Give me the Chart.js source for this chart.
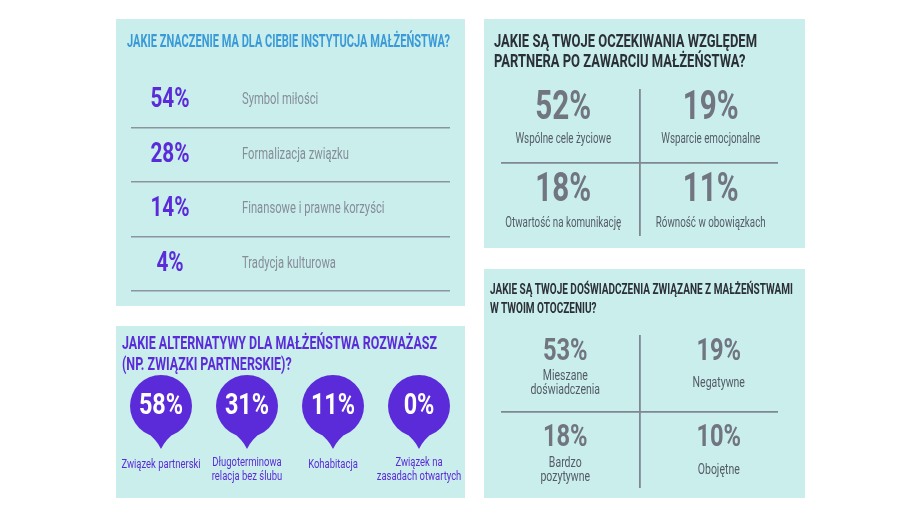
<!DOCTYPE html>
<html><head><meta charset="utf-8">
<script src="https://cdn.jsdelivr.net/npm/chart.js@4.4.1/dist/chart.umd.min.js"></script>
<style>
html,body{margin:0;padding:0;background:#fff;width:920px;height:518px;overflow:hidden;}
.panel{position:absolute;background:#c9eeec;}
.cw{position:absolute;left:0;top:0;right:0;bottom:0;}
.title{position:absolute;font-family:Roboto,sans-serif;white-space:nowrap;font-weight:bold;}
.title span{display:inline-block;transform-origin:0 50%;}
</style></head><body>
<div class="panel" style="left:116px;top:19px;width:349px;height:287px">
  <div class="cw"><canvas id="c1"></canvas></div>
  <div class="title" id="t1" data-w="323" style="left:11px;top:12px;font-size:18px;line-height:20px;color:#3a9ad8;"></div>
</div>
<div class="panel" style="left:484px;top:19px;width:321px;height:229px">
  <div class="cw"><canvas id="c2"></canvas></div>
  <div class="title" id="t2" data-w="263" style="left:10px;top:12px;font-size:19px;line-height:20px;color:#2b2f36;"></div>
</div>
<div class="panel" style="left:116px;top:326px;width:349px;height:172px">
  <div class="cw"><canvas id="c3"></canvas></div>
  <div class="title" id="t3" data-w="315" style="left:6px;top:6px;font-size:19px;line-height:21px;color:#5b2bd9;"></div>
</div>
<div class="panel" style="left:484px;top:269px;width:321px;height:229px">
  <div class="cw"><canvas id="c4"></canvas></div>
  <div class="title" id="t4" data-w="303" style="left:6px;top:11px;font-size:15px;line-height:18.5px;color:#2b2f36;"></div>
</div>
<script>
// ---- data ----
const title1 = ['JAKIE ZNACZENIE MA DLA CIEBIE INSTYTUCJA MAŁŻEŃSTWA?'];
const q1Labels = ['Symbol miłości', 'Formalizacja związku', 'Finansowe i prawne korzyści', 'Tradycja kulturowa'];
const q1Values = [54, 28, 14, 4];

const title2 = ['JAKIE SĄ TWOJE OCZEKIWANIA WZGLĘDEM', 'PARTNERA PO ZAWARCIU MAŁŻEŃSTWA?'];
const q2Labels = [['Wspólne cele życiowe'], ['Wsparcie emocjonalne'], ['Otwartość na komunikację'], ['Równość w obowiązkach']];
const q2Values = [52, 19, 18, 11];

const title3 = ['JAKIE ALTERNATYWY DLA MAŁŻEŃSTWA ROZWAŻASZ', '(NP. ZWIĄZKI PARTNERSKIE)?'];
const q3Labels = [['Związek partnerski'], ['Długoterminowa', 'relacja bez ślubu'], ['Kohabitacja'], ['Związek na', 'zasadach otwartych']];
const q3Values = [58, 31, 11, 0];

const title4 = ['JAKIE SĄ TWOJE DOŚWIADCZENIA ZWIĄZANE Z MAŁŻEŃSTWAMI', 'W TWOIM OTOCZENIU?'];
const q4Labels = [['Mieszane', 'doświadczenia'], ['Negatywne'], ['Bardzo', 'pozytywne'], ['Obojętne']];
const q4Values = [53, 19, 18, 10];

// ---- styles ----
const FONT = "Roboto, sans-serif";
const PURPLE = '#5b2bd9';
const LGRAY = '#878d98';
const DGRAY = '#555b66';
const NGRAY = '#70757f';
const LINE = '#8c949f';
const QLINE = '#7f8793';
const NUM_SX = 0.74;   // horizontal condensing of numbers
const LAB_SX = 0.70;   // horizontal condensing of labels

function setTitle(id, lines) {
  const el = document.getElementById(id);
  el.innerHTML = '';
  const span = document.createElement('span');
  lines.forEach((s, k) => {
    if (k) span.appendChild(document.createElement('br'));
    span.appendChild(document.createTextNode(s));
  });
  el.appendChild(span);
  const fit = () => {
    span.style.transform = 'none';
    const probe = document.createElement('span');
    probe.style.cssText = 'position:absolute;visibility:hidden;white-space:nowrap;';
    probe.textContent = lines[0];
    el.appendChild(probe);
    const w = probe.getBoundingClientRect().width;
    el.removeChild(probe);
    span.style.transform = 'scaleX(' + (parseFloat(el.dataset.w) / w) + ')';
  };
  fit();
  if (document.fonts) document.fonts.ready.then(fit);
}
setTitle('t1', title1); setTitle('t2', title2); setTitle('t3', title3); setTitle('t4', title4);

Chart.defaults.animation = false;
Chart.defaults.responsive = true;
Chart.defaults.maintainAspectRatio = false;
Chart.defaults.plugins.legend.display = false;
Chart.defaults.plugins.tooltip.enabled = false;

function ctext(ctx, s, x, y, sx) {
  ctx.save(); ctx.translate(x, y); ctx.scale(sx, 1); ctx.fillText(s, 0, 0); ctx.restore();
}
function drawLines(ctx, lines, x, y, lh, sx) {
  const y0 = y - (lines.length - 1) * lh / 2;
  lines.forEach((s, k) => ctext(ctx, s, x, y0 + k * lh, sx));
}

const midGridScale = (labels) => ({
  type: 'category', labels: labels, offset: true,
  grid: { offset: true, drawTicks: false, lineWidth: 1.8,
          color: c => c.index === 1 ? QLINE : 'rgba(0,0,0,0)' },
  border: { display: false },
  ticks: { display: false }
});

// ---- chart 1: rows ----
new Chart(document.getElementById('c1'), {
  type: 'bar',
  data: { labels: q1Labels, datasets: [{ data: q1Values, backgroundColor: 'rgba(0,0,0,0)' }] },
  options: {
    indexAxis: 'y',
    layout: { padding: { left: 15, right: 15, top: 54, bottom: 15 } },
    scales: {
      x: { display: false, min: 0, max: 100 },
      y: { type: 'category', offset: true,
           grid: { offset: true, drawTicks: false, lineWidth: 1.6,
                   color: c => c.index === 0 ? 'rgba(0,0,0,0)' : LINE },
           border: { display: false }, ticks: { display: false } }
    }
  },
  plugins: [{
    id: 'rowText',
    afterDatasetsDraw(chart) {
      const { ctx, chartArea } = chart;
      const ds = chart.data.datasets[0].data;
      chart.getDatasetMeta(0).data.forEach((bar, i) => {
        ctx.save();
        ctx.textBaseline = 'middle';
        ctx.font = 'bold 28px ' + FONT;
        ctx.fillStyle = PURPLE; ctx.textAlign = 'center';
        ctext(ctx, ds[i] + '%', chartArea.left + 39, bar.y, NUM_SX);
        ctx.font = '16px ' + FONT;
        ctx.fillStyle = LGRAY; ctx.textAlign = 'left';
        ctext(ctx, chart.data.labels[i], chartArea.left + 111, bar.y, LAB_SX);
        ctx.restore();
      });
    }
  }]
});

// ---- quadrant charts ----
function quadChart(id, values, labels, pad, numFont, numDy, labFont, labDy, lh, colDx) {
  const cols = ['L', 'R'], rows = ['T', 'B'];
  new Chart(document.getElementById(id), {
    type: 'scatter',
    data: { datasets: [{ data: values.map((v, i) => ({ x: cols[i % 2], y: rows[Math.floor(i / 2)], v: v })), pointRadius: 0 }] },
    options: {
      layout: { padding: pad },
      scales: { x: midGridScale(cols), y: midGridScale(rows) }
    },
    plugins: [{
      id: 'quadText',
      afterDatasetsDraw(chart) {
        const { ctx } = chart;
        const ds = chart.data.datasets[0].data;
        chart.getDatasetMeta(0).data.forEach((pt, i) => {
          const x = pt.x + colDx[i % 2];
          const r = Math.floor(i / 2);
          ctx.save();
          ctx.textAlign = 'center'; ctx.textBaseline = 'middle';
          ctx.font = numFont; ctx.fillStyle = NGRAY;
          ctext(ctx, ds[i].v + '%', x, pt.y + numDy[r], NUM_SX);
          ctx.font = labFont; ctx.fillStyle = DGRAY;
          drawLines(ctx, labels[i], x, pt.y + labDy[r], lh, LAB_SX);
          ctx.restore();
        });
      }
    }]
  });
}
quadChart('c2', q2Values, q2Labels, { left: 17, right: 27, top: 70, bottom: 12 },
  'bold 40px ' + FONT, [-17, -8], '14px ' + FONT, [14, 24], 14, [-7, 2]);
quadChart('c4', q4Values, q4Labels, { left: 17, right: 27, top: 66, bottom: 10 },
  'bold 32px ' + FONT, [-21, -12], '15px ' + FONT, [10, 20], 14, [-5, 10]);

// ---- chart 3: pins ----
new Chart(document.getElementById('c3'), {
  type: 'scatter',
  data: { datasets: [{ data: q3Values.map((v, i) => ({ x: 'p' + i, y: 0, v: v })), pointRadius: 0 }] },
  options: {
    layout: { padding: { left: 2, right: 3, top: 53, bottom: 65 } },
    scales: {
      x: { type: 'category', labels: q3Values.map((v, i) => 'p' + i), offset: true, display: false },
      y: { display: false, min: -1, max: 1 }
    }
  },
  plugins: [{
    id: 'pins',
    afterDatasetsDraw(chart) {
      const { ctx } = chart;
      const ds = chart.data.datasets[0].data;
      const r = 31;
      chart.getDatasetMeta(0).data.forEach((pt, i) => {
        const x = pt.x, y = pt.y;
        ctx.save();
        ctx.fillStyle = PURPLE;
        ctx.beginPath();
        ctx.arc(x, y, r, 0, Math.PI * 2);
        ctx.fill();
        const a = 32 * Math.PI / 180;
        ctx.beginPath();
        ctx.moveTo(x - r * Math.sin(a), y + r * Math.cos(a) - 2);
        ctx.quadraticCurveTo(x - 4, y + 34, x, y + 43);
        ctx.quadraticCurveTo(x + 4, y + 34, x + r * Math.sin(a), y + r * Math.cos(a) - 2);
        ctx.closePath();
        ctx.fill();
        ctx.textAlign = 'center'; ctx.textBaseline = 'middle';
        ctx.fillStyle = '#ffffff';
        ctx.font = 'bold 30px ' + FONT;
        ctext(ctx, ds[i].v + '%', x, y, 0.78);
        ctx.fillStyle = PURPLE;
        ctx.font = '13.5px ' + FONT;
        const n = q3Labels[i].length;
        q3Labels[i].forEach((s, k) => ctext(ctx, s, x, y + (n === 1 ? 59 : 57) + k * 14, LAB_SX));
        ctx.restore();
      });
    }
  }]
});
</script>
</body></html>
